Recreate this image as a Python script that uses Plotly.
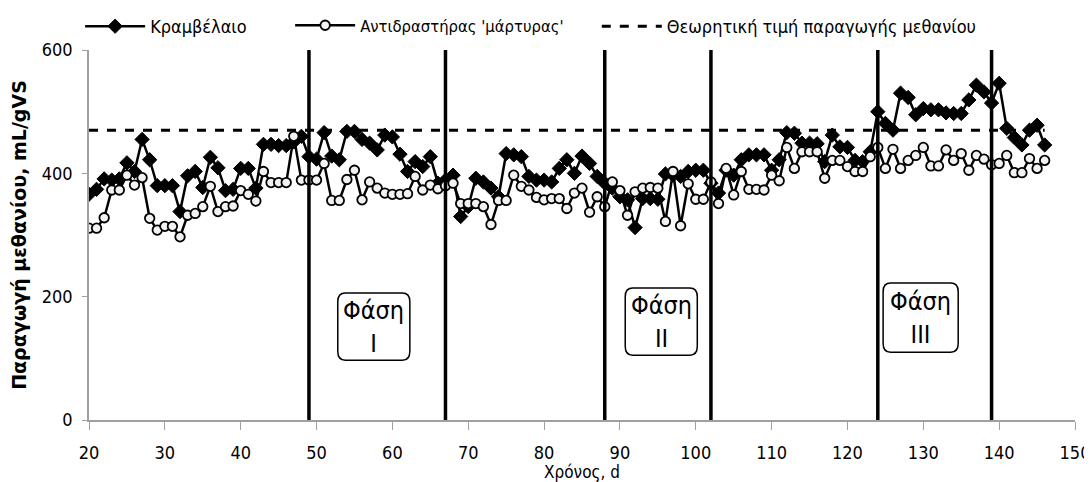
import plotly.graph_objects as go

# ---------------- data ----------------
days = list(range(20, 147))

rapeseed = [366, 374, 391, 389, 391, 417, 403, 455, 422, 380,
            380, 380, 338, 396, 403, 377, 426, 409, 372, 374,
            408, 408, 376, 447, 447, 445, 445, 451, 460, 427,
            423, 466, 428, 422, 468, 468, 455, 449, 438, 462,
            459, 431, 403, 419, 411, 427, 384, 389, 397, 330,
            346, 392, 386, 376, 362, 432, 430, 427, 395, 389,
            389, 386, 408, 422, 400, 428, 416, 395, 384, 376,
            362, 357, 312, 359, 359, 358, 399, 397, 395, 403,
            405, 405, 384, 368, 405, 397, 422, 430, 430, 430,
            405, 422, 466, 465, 449, 449, 448, 419, 462, 443,
            442, 421, 419, 435, 500, 481, 470, 530, 523, 495,
            505, 503, 503, 498, 497, 497, 519, 543, 532, 514,
            546, 473, 458, 446, 470, 478, 446]

control = [311, 311, 328, 373, 373, 397, 381, 393, 327, 308,
           314, 314, 297, 332, 335, 346, 379, 338, 346, 347,
           372, 366, 355, 403, 385, 385, 385, 460, 389, 389,
           389, 416, 356, 356, 390, 405, 357, 386, 376, 368,
           366, 366, 367, 395, 373, 381, 375, 380, 384, 351,
           351, 351, 346, 317, 356, 356, 397, 379, 373, 361,
           357, 359, 359, 343, 368, 376, 337, 362, 346, 386,
           372, 332, 370, 376, 377, 376, 322, 403, 315, 383,
           358, 358, 386, 351, 408, 365, 403, 374, 374, 373,
           397, 388, 442, 408, 435, 435, 435, 392, 421, 421,
           411, 403, 403, 427, 442, 408, 439, 408, 421, 429,
           442, 412, 412, 438, 421, 432, 405, 429, 423, 414,
           416, 429, 401, 401, 424, 408, 421]

theoretical = 470
phase_days = [49, 67, 88, 102, 124, 139]
phase_labels = ["I", "II", "III"]

series_names = ["Κραμβέλαιο", "Αντιδραστήρας 'μάρτυρας'",
                "Θεωρητική τιμή παραγωγής μεθανίου"]
x_title = "Χρόνος, d"
y_title = "Παραγωγή μεθανίου, mL/gVS"
x_ticks = [20, 30, 40, 50, 60, 70, 80, 90, 100, 110, 120, 130, 140, 150]
y_ticks = [0, 200, 400, 600]

# ---------------- styling / layout ----------------
NARROW = "DejaVu Sans Condensed, Liberation Sans Narrow, sans-serif"
# phase box extents (x0, x1, y0, y1) in data units
phase_boxes = [(52.8, 62.3, 97, 206), (90.7, 100.2, 105, 214), (124.7, 134.6, 110, 222)]
legend_x = [-0.009, 0.204, 0.515]
legend_font = [18, 16.5, 18]

fig = go.Figure()

fig.add_trace(go.Scatter(
    x=days, y=rapeseed, name=series_names[0], mode="lines+markers",
    line=dict(color="black", width=2.5),
    marker=dict(symbol="diamond", size=11, color="black",
                line=dict(color="black", width=1)),
    legend="legend",
))
fig.add_trace(go.Scatter(
    x=days, y=control, name=series_names[1], mode="lines+markers",
    line=dict(color="black", width=2.5),
    marker=dict(symbol="circle", size=9.5, color="#f2f2f2",
                line=dict(color="black", width=1.8)),
    legend="legend2",
))
fig.add_trace(go.Scatter(
    x=[days[0], days[-1]], y=[theoretical, theoretical], name=series_names[2],
    mode="lines", line=dict(color="black", width=3, dash="dash"),
    legend="legend3",
))

# phase boundary lines
for d in phase_days:
    fig.add_shape(type="line", xref="x", yref="y", x0=d, x1=d,
                  y0=y_ticks[0], y1=y_ticks[-1],
                  line=dict(color="black", width=3.5), layer="above")


def rounded_path(x0, x1, y0, y1, rx=1.0, ry=14):
    return (f"M {x0+rx},{y0} L {x1-rx},{y0} Q {x1},{y0} {x1},{y0+ry} "
            f"L {x1},{y1-ry} Q {x1},{y1} {x1-rx},{y1} L {x0+rx},{y1} "
            f"Q {x0},{y1} {x0},{y1-ry} L {x0},{y0+ry} Q {x0},{y0} {x0+rx},{y0} Z")


for (x0, x1, y0, y1), lab in zip(phase_boxes, phase_labels):
    fig.add_shape(type="path", xref="x", yref="y",
                  path=rounded_path(x0, x1, y0, y1),
                  line=dict(color="black", width=1.5), fillcolor="white")
    fig.add_annotation(x=(x0 + x1) / 2, y=(y0 + y1) / 2, xref="x", yref="y",
                       text=f"Φάση<br>{lab}", showarrow=False,
                       font=dict(family=NARROW, size=25, color="black"),
                       align="center")


def legend_cfg(xpos, fsize):
    return dict(orientation="h", x=xpos, xanchor="left", y=1.1135, yanchor="top",
                font=dict(family=NARROW, size=fsize, color="black"),
                itemwidth=60, bgcolor="rgba(0,0,0,0)")


fig.update_layout(
    width=1084, height=474,
    margin=dict(l=81, r=17, t=42, b=62, autoexpand=False),
    paper_bgcolor="white", plot_bgcolor="white",
    showlegend=True,
    legend=legend_cfg(legend_x[0], legend_font[0]),
    legend2=legend_cfg(legend_x[1], legend_font[1]),
    legend3=legend_cfg(legend_x[2], legend_font[2]),
    xaxis=dict(range=[20, 150], tickvals=x_ticks, showgrid=False, zeroline=False,
               showline=True, linecolor="#a0a0a0", linewidth=1.5,
               ticks="outside", ticklen=8, tickcolor="#a0a0a0",
               ticklabelstandoff=8,
               tickfont=dict(family=NARROW, size=18, color="black"),
               title=dict(text=x_title, standoff=0,
                          font=dict(family=NARROW, size=17, color="black"))),
    yaxis=dict(range=[0, 600], tickvals=y_ticks, showgrid=False, zeroline=False,
               showline=True, linecolor="#a0a0a0", linewidth=1.5,
               ticks="outside", ticklen=5, tickcolor="#a0a0a0",
               ticklabelstandoff=6,
               tickfont=dict(family=NARROW, size=18, color="black"),
               title=dict(text=f"<b>{y_title}</b>", standoff=14,
                          font=dict(family="DejaVu Sans", size=19, color="black"))),
)

fig.write_html("out.html")
